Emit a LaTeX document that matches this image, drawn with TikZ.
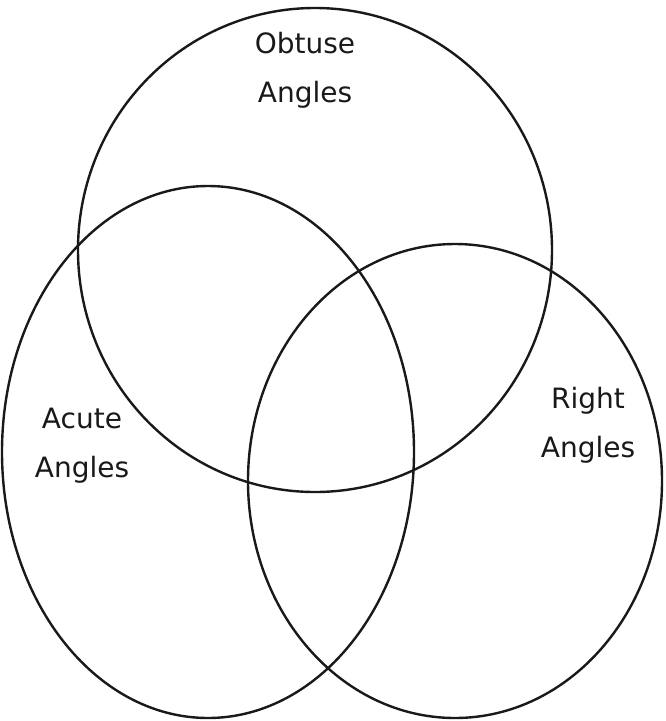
\documentclass[tikz,border=0pt]{standalone}
\usepackage{fontspec}
\setmainfont{DejaVu Sans}
\begin{document}
\begin{tikzpicture}[x=0.75pt,y=-0.75pt,
  ring/.style={draw=black!90,line width=1.8pt},
  lbl/.style={align=center,font=\fontsize{21}{37}\selectfont,text=black!90}]
\useasboundingbox (0,0) rectangle (665,721);
\draw[ring] (315,250) ellipse [x radius=237, y radius=242];
\draw[ring] (208,452) ellipse [x radius=206, y radius=266];
\draw[ring] (455,481) ellipse [x radius=207, y radius=237];
\node[lbl] (obt) at (305,70) {Obtuse\\Angles};
\node[lbl] (acu) at (82,446) {Acute\\Angles};
\node[lbl] (rig) at (588,425) {Right\\Angles};
\end{tikzpicture}
\end{document}
